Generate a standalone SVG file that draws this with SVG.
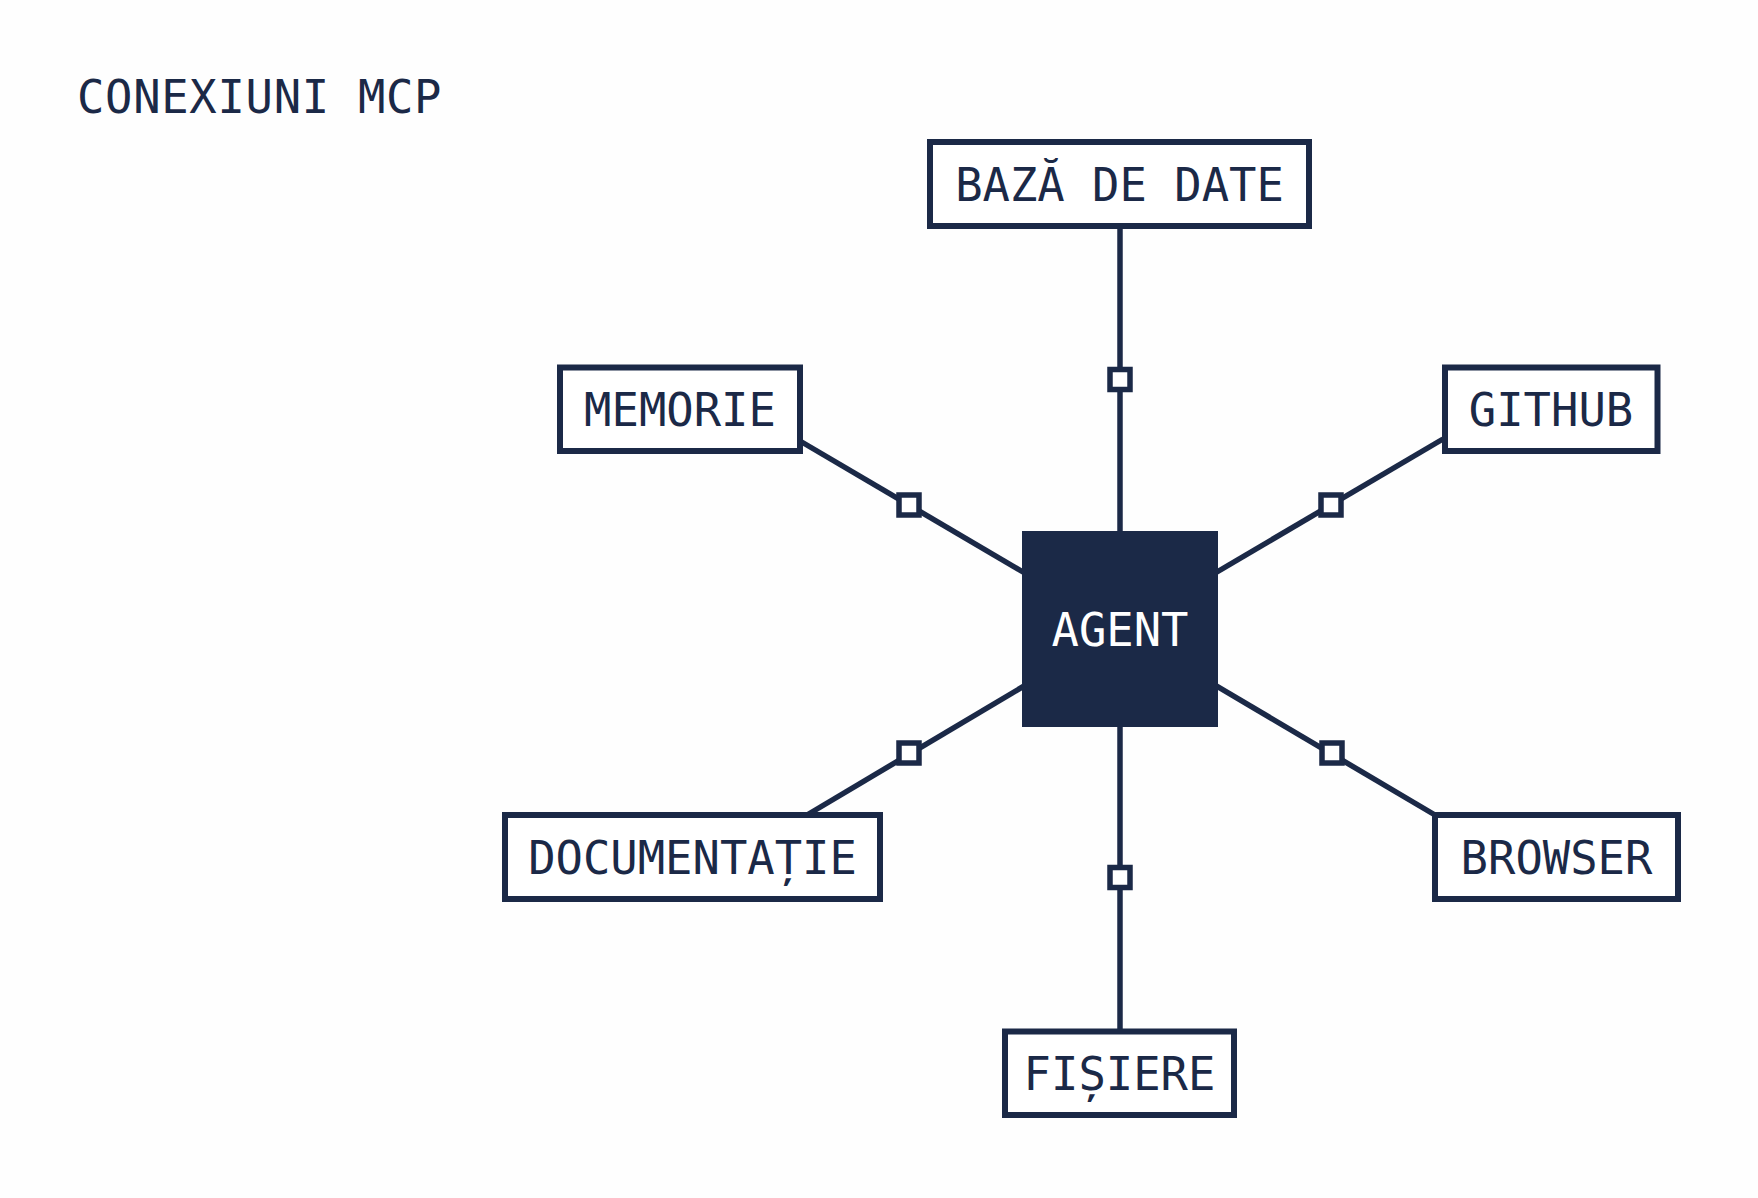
<svg xmlns="http://www.w3.org/2000/svg" width="1758" height="1198" viewBox="0 0 1758 1198">
  <style>
    .bg { fill: #fefefe; }
    .box { fill: #ffffff; stroke: #1b2947; stroke-width: 6; }
    .hub { fill: #1b2947; }
    .lbl { font-family: "DejaVu Sans Mono", "Liberation Mono", monospace; font-size: 45.5px; fill: #1b2947; text-anchor: middle; }
    .hubl { fill: #ffffff; }
    .title { font-family: "DejaVu Sans Mono", "Liberation Mono", monospace; font-size: 45.5px; fill: #1b2947; letter-spacing: 0.7px; }
    .conn line { stroke: #1b2947; stroke-width: 5.5; fill: none; }
    .conn rect { fill: #ffffff; stroke: #1b2947; stroke-width: 5.5; }
  </style>
  <rect class="bg" x="0" y="0" width="1758" height="1198"/>
  <text class="title" x="77" y="113">CONEXIUNI MCP</text>

  <g id="connectors" class="conn">
    <line x1="1120" y1="629" x2="1120" y2="226"/>
    <line x1="1120" y1="629" x2="800" y2="441"/>
    <line x1="1120" y1="629" x2="1443" y2="439"/>
    <line x1="1120" y1="629" x2="807" y2="815"/>
    <line x1="1120" y1="629" x2="1435" y2="815"/>
    <line x1="1120" y1="629" x2="1120" y2="1031"/>
    <rect x="1110" y="369.5" width="20" height="20"/>
    <rect x="899" y="495" width="20" height="20"/>
    <rect x="1321" y="495" width="20" height="20"/>
    <rect x="899" y="743" width="20" height="20"/>
    <rect x="1322" y="743" width="20" height="20"/>
    <rect x="1110" y="867.5" width="20" height="20"/>
  </g>

  <g id="node-agent">
    <rect class="hub" x="1022" y="531" width="196" height="196"/>
    <text class="lbl hubl" x="1120" y="646">AGENT</text>
  </g>
  <g id="node-baza-de-date">
    <rect class="box" x="930" y="142" width="379" height="84"/>
    <text class="lbl" x="1119.5" y="201">BAZĂ DE DATE</text>
  </g>
  <g id="node-memorie">
    <rect class="box" x="560" y="367.5" width="240" height="83.5"/>
    <text class="lbl" x="680" y="426">MEMORIE</text>
  </g>
  <g id="node-github">
    <rect class="box" x="1445" y="367.5" width="212.5" height="83.5"/>
    <text class="lbl" x="1551" y="426">GITHUB</text>
  </g>
  <g id="node-documentatie">
    <rect class="box" x="505" y="815" width="375" height="84"/>
    <text class="lbl" x="692.5" y="874">DOCUMENTAȚIE</text>
  </g>
  <g id="node-browser">
    <rect class="box" x="1435" y="815" width="243" height="84"/>
    <text class="lbl" x="1556.5" y="874">BROWSER</text>
  </g>
  <g id="node-fisiere">
    <rect class="box" x="1005" y="1031.5" width="229" height="83.5"/>
    <text class="lbl" x="1119.5" y="1090">FIȘIERE</text>
  </g>
</svg>
